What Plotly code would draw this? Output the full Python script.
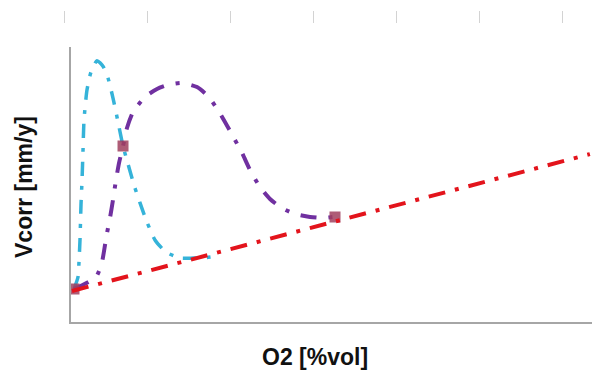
import plotly.graph_objects as go

# Values (arbitrary units, no tick labels shown)
red_x = [0.029, 9.96]
red_y = [1.11, 6.10]

cyan_x = [0.067, 0.144, 0.163, 0.182, 0.201, 0.221, 0.240, 0.259, 0.316, 0.393, 0.508,
          0.623, 0.719, 0.815, 0.911, 1.007, 1.103, 1.218, 1.333, 1.467, 1.620, 1.831,
          2.100, 2.349, 2.617, 2.866]
cyan_y = [1.18, 1.62, 2.17, 2.97, 4.24, 5.15, 6.25, 7.34, 8.43, 9.09, 9.50,
          9.30, 8.87, 8.14, 7.27, 6.39, 5.74, 4.97, 4.32, 3.62, 2.97, 2.53,
          2.31, 2.31, 2.33, 2.40]

purple_x = [0.067, 0.489, 0.604, 0.662, 0.700, 0.757, 0.815, 0.872, 0.930, 1.007, 1.083,
            1.198, 1.429, 1.659, 1.870, 2.138, 2.426, 2.637, 2.828, 3.059, 3.289, 3.442,
            3.634, 3.826, 4.056, 4.305, 4.593, 4.842, 5.072, 5.225]
purple_y = [1.18, 1.62, 2.17, 2.79, 3.22, 3.77, 4.43, 5.15, 5.77, 6.39, 7.05,
            7.63, 8.18, 8.47, 8.62, 8.69, 8.54, 8.21, 7.70, 6.94, 6.14, 5.52,
            4.90, 4.46, 4.13, 3.92, 3.81, 3.77, 3.81, 3.77]

marker_x = [0.067, 1.007, 5.072]
marker_y = [1.18, 6.39, 3.81]

top_ticks = [0, 1, 2, 3, 4, 5, 6]

x_title = "O2 [%vol]"
y_title = "Vcorr [mm/y]"

fig = go.Figure()

fig.add_trace(go.Scatter(x=cyan_x, y=cyan_y, mode="lines",
                         line=dict(color="#35B3D9", width=3.5, shape="spline", smoothing=0.6,
                                   dash="14px,10px,4px,10px"),
                         showlegend=False, hoverinfo="skip"))
fig.add_trace(go.Scatter(x=purple_x, y=purple_y, mode="lines",
                         line=dict(color="#7030A0", width=4, shape="spline", smoothing=0.6,
                                   dash="16px,12px,4px,12px"),
                         showlegend=False, hoverinfo="skip"))
fig.add_trace(go.Scatter(x=marker_x, y=marker_y, mode="markers",
                         marker=dict(symbol="square", size=11, color="#A0405E", opacity=0.85),
                         showlegend=False, hoverinfo="skip"))
fig.add_trace(go.Scatter(x=red_x, y=red_y, mode="lines",
                         line=dict(color="#E3141C", width=4, dash="17px,10px,4px,10px"),
                         showlegend=False, hoverinfo="skip"))

# decorative faint ticks along the top
fig.add_trace(go.Scatter(x=top_ticks, y=[0] * len(top_ticks), mode="markers",
                         marker=dict(opacity=0), xaxis="x2", yaxis="y2",
                         showlegend=False, hoverinfo="skip"))

fig.update_layout(
    width=592, height=372,
    margin=dict(l=0, r=0, t=0, b=0),
    paper_bgcolor="white", plot_bgcolor="white",
    xaxis=dict(domain=[70.5 / 592, 1.0], range=[0, 10], showgrid=False, zeroline=False,
               showticklabels=False, ticks="", showline=True, linecolor="#A6A6A6",
               linewidth=1.5, fixedrange=True),
    yaxis=dict(domain=[(372 - 321.5) / 372, (372 - 47) / 372], range=[0, 10],
               showgrid=False, zeroline=False, showticklabels=False, ticks="",
               showline=True, linecolor="#A6A6A6", linewidth=1.5, fixedrange=True),
    xaxis2=dict(domain=[0, 1], range=[-64 / 83, (592 - 64) / 83], anchor="y2",
                side="top", tickvals=top_ticks, ticks="outside", ticklen=12,
                tickcolor="#D3D3D3", tickwidth=1, showticklabels=False,
                showline=False, showgrid=False, zeroline=False),
    yaxis2=dict(domain=[(372 - 34) / 372, (372 - 24) / 372], anchor="x2",
                showgrid=False, zeroline=False, showticklabels=False, showline=False,
                ticks=""),
    annotations=[
        dict(text=x_title, xref="paper", yref="paper", x=315 / 592, y=1 - 357 / 372,
             showarrow=False, font=dict(family="Liberation Sans, Arial", size=23,
                                        color="#111111", weight="bold"),
             xanchor="center", yanchor="middle"),
        dict(text=y_title, xref="paper", yref="paper", x=24 / 592, y=1 - 187 / 372,
             showarrow=False, textangle=-90,
             font=dict(family="Liberation Sans, Arial", size=23, color="#111111",
                       weight="bold"),
             xanchor="center", yanchor="middle"),
    ],
)

fig.write_html("out.html")
